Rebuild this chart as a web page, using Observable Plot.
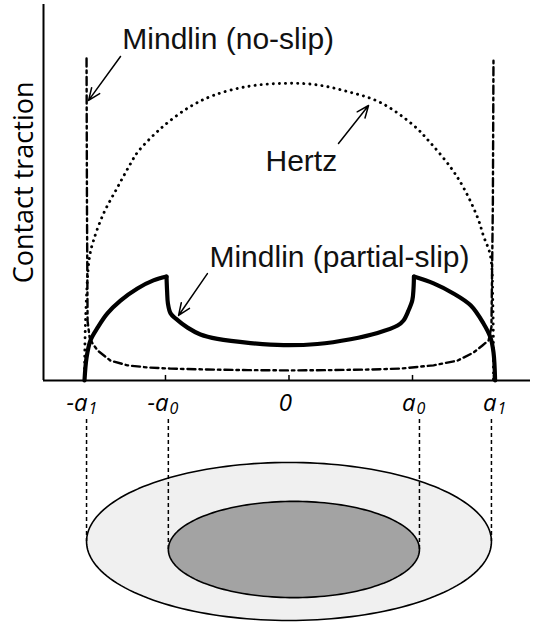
<!DOCTYPE html>
<html><head><meta charset="utf-8">
<script src="https://cdn.jsdelivr.net/npm/d3@7"></script>
<script src="https://cdn.jsdelivr.net/npm/@observablehq/plot@0.6"></script>
<style>
html,body{margin:0;padding:0;background:#fff;}
#chart svg{display:block;}
</style></head><body><div id="chart"></div>
<script>
// x in units of the contact radius a1, y in units of the Hertz peak traction
const tickX = [-1, -0.604, 0, 0.604, 1];
const tickMain = ["-a", "-a", "0", "a", "a"];
const tickSub = ["1", "0", "", "0", "1"];

const hertzX = [-1.0, -0.995, -0.976, -0.956, -0.907, -0.839, -0.775, -0.741, -0.628, -0.491, -0.369, -0.203, -0.042, 0.120, 0.286, 0.447, 0.609, 0.692, 0.790, 0.853, 0.922, 0.951, 0.985, 0.997, 1.0];
const hertzY = [0, 0.2, 0.414, 0.471, 0.562, 0.650, 0.730, 0.768, 0.848, 0.919, 0.960, 0.990, 1.0, 0.997, 0.973, 0.936, 0.859, 0.800, 0.718, 0.650, 0.549, 0.487, 0.420, 0.25, 0];

const noSlipX = [-0.990, -0.988, -0.985, -0.975, -0.961, -0.936, -0.873, -0.79, -0.692, -0.579, -0.399, -0.2, 0, 0.2, 0.4, 0.545, 0.707, 0.824, 0.902, 0.946, 0.976, 0.99, 0.997, 1.0];
const noSlipY = [1.084, 0.6, 0.2, 0.145, 0.125, 0.101, 0.067, 0.051, 0.044, 0.040, 0.037, 0.035, 0.034, 0.035, 0.037, 0.040, 0.051, 0.067, 0.094, 0.118, 0.135, 0.18, 0.6, 1.084];

// partial-slip traction: slip annulus (left), stick zone, slip annulus (right)
const partialLeftX = [-1.0, -0.990, -0.971, -0.936, -0.888, -0.824, -0.741, -0.663, -0.599];
const partialLeftY = [0, 0.077, 0.135, 0.178, 0.226, 0.269, 0.310, 0.337, 0.350];
const partialMidX = [-0.599, -0.596, -0.592, -0.579, -0.555, -0.496, -0.433, -0.350, -0.188, -0.027, 0.139, 0.301, 0.433, 0.531, 0.560, 0.584, 0.603, 0.609, 0.611];
const partialMidY = [0.350, 0.300, 0.259, 0.226, 0.209, 0.178, 0.155, 0.140, 0.126, 0.119, 0.123, 0.139, 0.160, 0.185, 0.202, 0.235, 0.270, 0.310, 0.350];
const partialRightX = [0.611, 0.707, 0.804, 0.888, 0.951, 0.985, 1.0, 1.008];
const partialRightY = [0.350, 0.327, 0.293, 0.253, 0.192, 0.145, 0.095, 0];

const labelText = ["Mindlin (no-slip)", "Hertz", "Mindlin (partial-slip)"];
const axisLabel = "Contact traction";

// ---------- layout (positions / styles, not data) ----------
const W = 533, H = 625;
const labelPos = [
  {x: -0.815, y: 1.147, ax1: -0.824, ay1: 1.091, ax2: -0.980, ay2: 0.943},
  {x: -0.115, y: 0.739, ax1: 0.242, ay1: 0.798, ax2: 0.389, ay2: 0.926},
  {x: -0.389, y: 0.416, ax1: -0.399, ay1: 0.360, ax2: -0.540, ay2: 0.219}
];
const annotations = labelText.map((t, i) => ({text: t, ...labelPos[i]}));

const toPts = (xs, ys, seg) => xs.map((x, i) => ({x, y: ys[i], seg}));
const hertz = toPts(hertzX, hertzY);
const noSlip = toPts(noSlipX, noSlipY);
const partial = [
  ...toPts(partialLeftX, partialLeftY, "L"),
  ...toPts(partialMidX, partialMidY, "M"),
  ...toPts(partialRightX, partialRightY, "R")
];
const ticks = tickX.map((x, i) => ({x, main: tickMain[i], sub: tickSub[i]}));

// contact-area sketch below the axis
const outerE = {cx: 0, cy: -0.542, rx: 0.99, ry: 0.266};
const innerE = {cx: 0.024, cy: -0.569, rx: 0.614, ry: 0.162};
const ellipse = e => d3.range(0, 361, 2).map(a => {
  const t = a * Math.PI / 180;
  return {x: e.cx + e.rx * Math.cos(t), y: e.cy + e.ry * Math.sin(t)};
});
const guides = [
  {x: outerE.cx - outerE.rx, y1: -0.131, y2: outerE.cy},
  {x: innerE.cx - innerE.rx, y1: -0.131, y2: innerE.cy},
  {x: innerE.cx + innerE.rx, y1: -0.131, y2: innerE.cy},
  {x: outerE.cx + outerE.rx, y1: -0.131, y2: outerE.cy}
];

const chart = Plot.plot({
  width: W, height: H,
  marginLeft: 43, marginRight: 3, marginTop: 4, marginBottom: 245,
  x: {domain: [-1.2005, 1.181], axis: null},
  y: {domain: [0, 1.266], axis: null},
  style: {background: "#fff", color: "#000"},
  marks: [
    // sketch of contact area
    Plot.line(ellipse(outerE), {x: "x", y: "y", fill: "#f0f0f0", stroke: "#000", strokeWidth: 1.6}),
    Plot.line(ellipse(innerE), {x: "x", y: "y", fill: "#a3a3a3", stroke: "#000", strokeWidth: 1.6}),
    Plot.ruleX(guides, {x: "x", y1: "y1", y2: "y2", stroke: "#000", strokeWidth: 1.5, strokeDasharray: "4,3"}),
    // curves
    Plot.line(hertz, {x: "x", y: "y", curve: "catmull-rom", stroke: "#000", strokeWidth: 2.9, strokeDasharray: "0.1,6", strokeLinecap: "round"}),
    Plot.line(noSlip, {x: "x", y: "y", stroke: "#000", strokeWidth: 2.4, strokeDasharray: "8,4,2.5,4"}),
    Plot.line(partial, {x: "x", y: "y", z: "seg", curve: "catmull-rom", stroke: "#000", strokeWidth: 4.2, strokeLinejoin: "round"}),
    // axes
    Plot.ruleY([0], {stroke: "#000", strokeWidth: 2}),
    Plot.ruleX([-1.2005], {stroke: "#000", strokeWidth: 2}),
    Plot.ruleX(ticks, {x: "x", y1: 0, y2: 0.017, stroke: "#000", strokeWidth: 1.5}),
    Plot.text(ticks, {x: "x", y: 0, text: "main", dy: 23, dx: 3, textAnchor: "end", fontSize: 24, fontStyle: "italic", fontFamily: "Open Sans", fill: "#000"}),
    Plot.text(ticks, {x: "x", y: 0, text: "sub", dy: 28, dx: 4, textAnchor: "start", fontSize: 16, fontStyle: "italic", fontFamily: "Open Sans", fill: "#000"}),
    // axis label
    Plot.text([axisLabel], {x: -1.295, y: 0.667, text: d => d, rotate: -90, fontSize: 27, fontFamily: "Open Sans", fill: "#000"}),
    // annotations
    Plot.arrow(annotations, {x1: "ax1", y1: "ay1", x2: "ax2", y2: "ay2", stroke: "#000", strokeWidth: 1.5, headLength: 13, headAngle: 45}),
    Plot.text(annotations, {x: "x", y: "y", text: "text", textAnchor: "start", fontSize: 30, fontFamily: "Liberation Sans", fill: "#111"})
  ]
});
document.getElementById("chart").appendChild(chart);
</script>
</body></html>
